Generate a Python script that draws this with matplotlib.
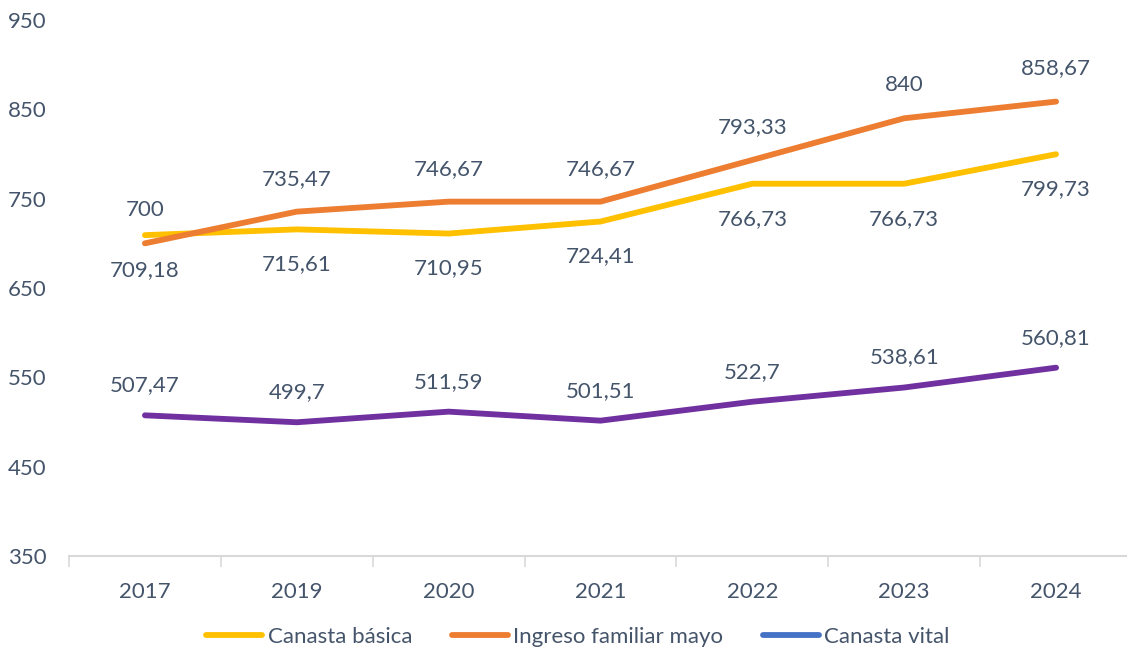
import matplotlib
matplotlib.use("Agg")
import matplotlib.pyplot as plt
from matplotlib.lines import Line2D
import numpy as np

years = ["2017", "2019", "2020", "2021", "2022", "2023", "2024"]
canasta_basica = [709.18, 715.61, 710.95, 724.41, 766.73, 766.73, 799.73]
ingreso_familiar = [700, 735.47, 746.67, 746.67, 793.33, 840, 858.67]
canasta_vital = [507.47, 499.7, 511.59, 501.51, 522.7, 538.61, 560.81]
series_names = ["Canasta básica", "Ingreso familiar mayo", "Canasta vital"]

plt.rcParams['font.family'] = ['Lato', 'DejaVu Sans']
txt = '#44546A'
c_yel = '#FFC000'
c_org = '#ED7D31'
c_pur = '#7030A0'
c_blu = '#4472C4'

W, H = 1127, 652
fig = plt.figure(figsize=(W/100, H/100), dpi=100)
ax = fig.add_axes([69/W, 96/H, (1132-69)/W, 536/H])

x = np.arange(len(years))
lw = 4.2
ax.plot(x, canasta_basica, color=c_yel, lw=lw, solid_capstyle='round', solid_joinstyle='round', zorder=3)
ax.plot(x, ingreso_familiar, color=c_org, lw=lw, solid_capstyle='round', solid_joinstyle='round', zorder=4)
ax.plot(x, canasta_vital, color=c_pur, lw=lw, solid_capstyle='round', solid_joinstyle='round', zorder=3)

def fmt(v):
    s = ('%.2f' % v).rstrip('0').rstrip('.')
    return s.replace('.', ',')

fs = 16
for xi, v in zip(x, canasta_basica):
    ax.annotate(fmt(v), (xi, v), xytext=(0, -35), textcoords='offset pixels',
                ha='center', va='center', fontsize=fs, color=txt)
for xi, v in zip(x, ingreso_familiar):
    ax.annotate(fmt(v), (xi, v), xytext=(0, 33), textcoords='offset pixels',
                ha='center', va='center', fontsize=fs, color=txt)
for xi, v in zip(x, canasta_vital):
    ax.annotate(fmt(v), (xi, v), xytext=(0, 30), textcoords='offset pixels',
                ha='center', va='center', fontsize=fs, color=txt)

ax.set_xlim(-0.5, len(years) - 0.5)
ax.set_ylim(350, 950)
ax.set_yticks(np.arange(350, 951, 100))
ax.set_xticks(x)
ax.set_xticklabels(years)
ax.set_xticks(np.arange(-0.5, len(years), 1), minor=True)
ax.tick_params(axis='x', which='major', length=0, pad=19, labelsize=fs, labelcolor=txt)
ax.tick_params(axis='x', which='minor', length=8, width=1.2, color='#D9D9D9')
ax.tick_params(axis='y', length=0, pad=16, labelsize=fs, labelcolor=txt)

for s in ['top', 'right', 'left']:
    ax.spines[s].set_visible(False)
ax.spines['bottom'].set_color('#D9D9D9')
ax.spines['bottom'].set_linewidth(1.5)

handles = [Line2D([0], [0], color=c, lw=lw, solid_capstyle='round') for c in [c_yel, c_org, c_blu]]
leg = fig.legend(handles, series_names, loc='center', bbox_to_anchor=(578/W, 1 - 637/H),
                 ncol=3, frameon=False, fontsize=fs, handlelength=2.5, handletextpad=0.25,
                 columnspacing=1.8, labelcolor=txt)

fig.savefig('out.png', dpi=100)
